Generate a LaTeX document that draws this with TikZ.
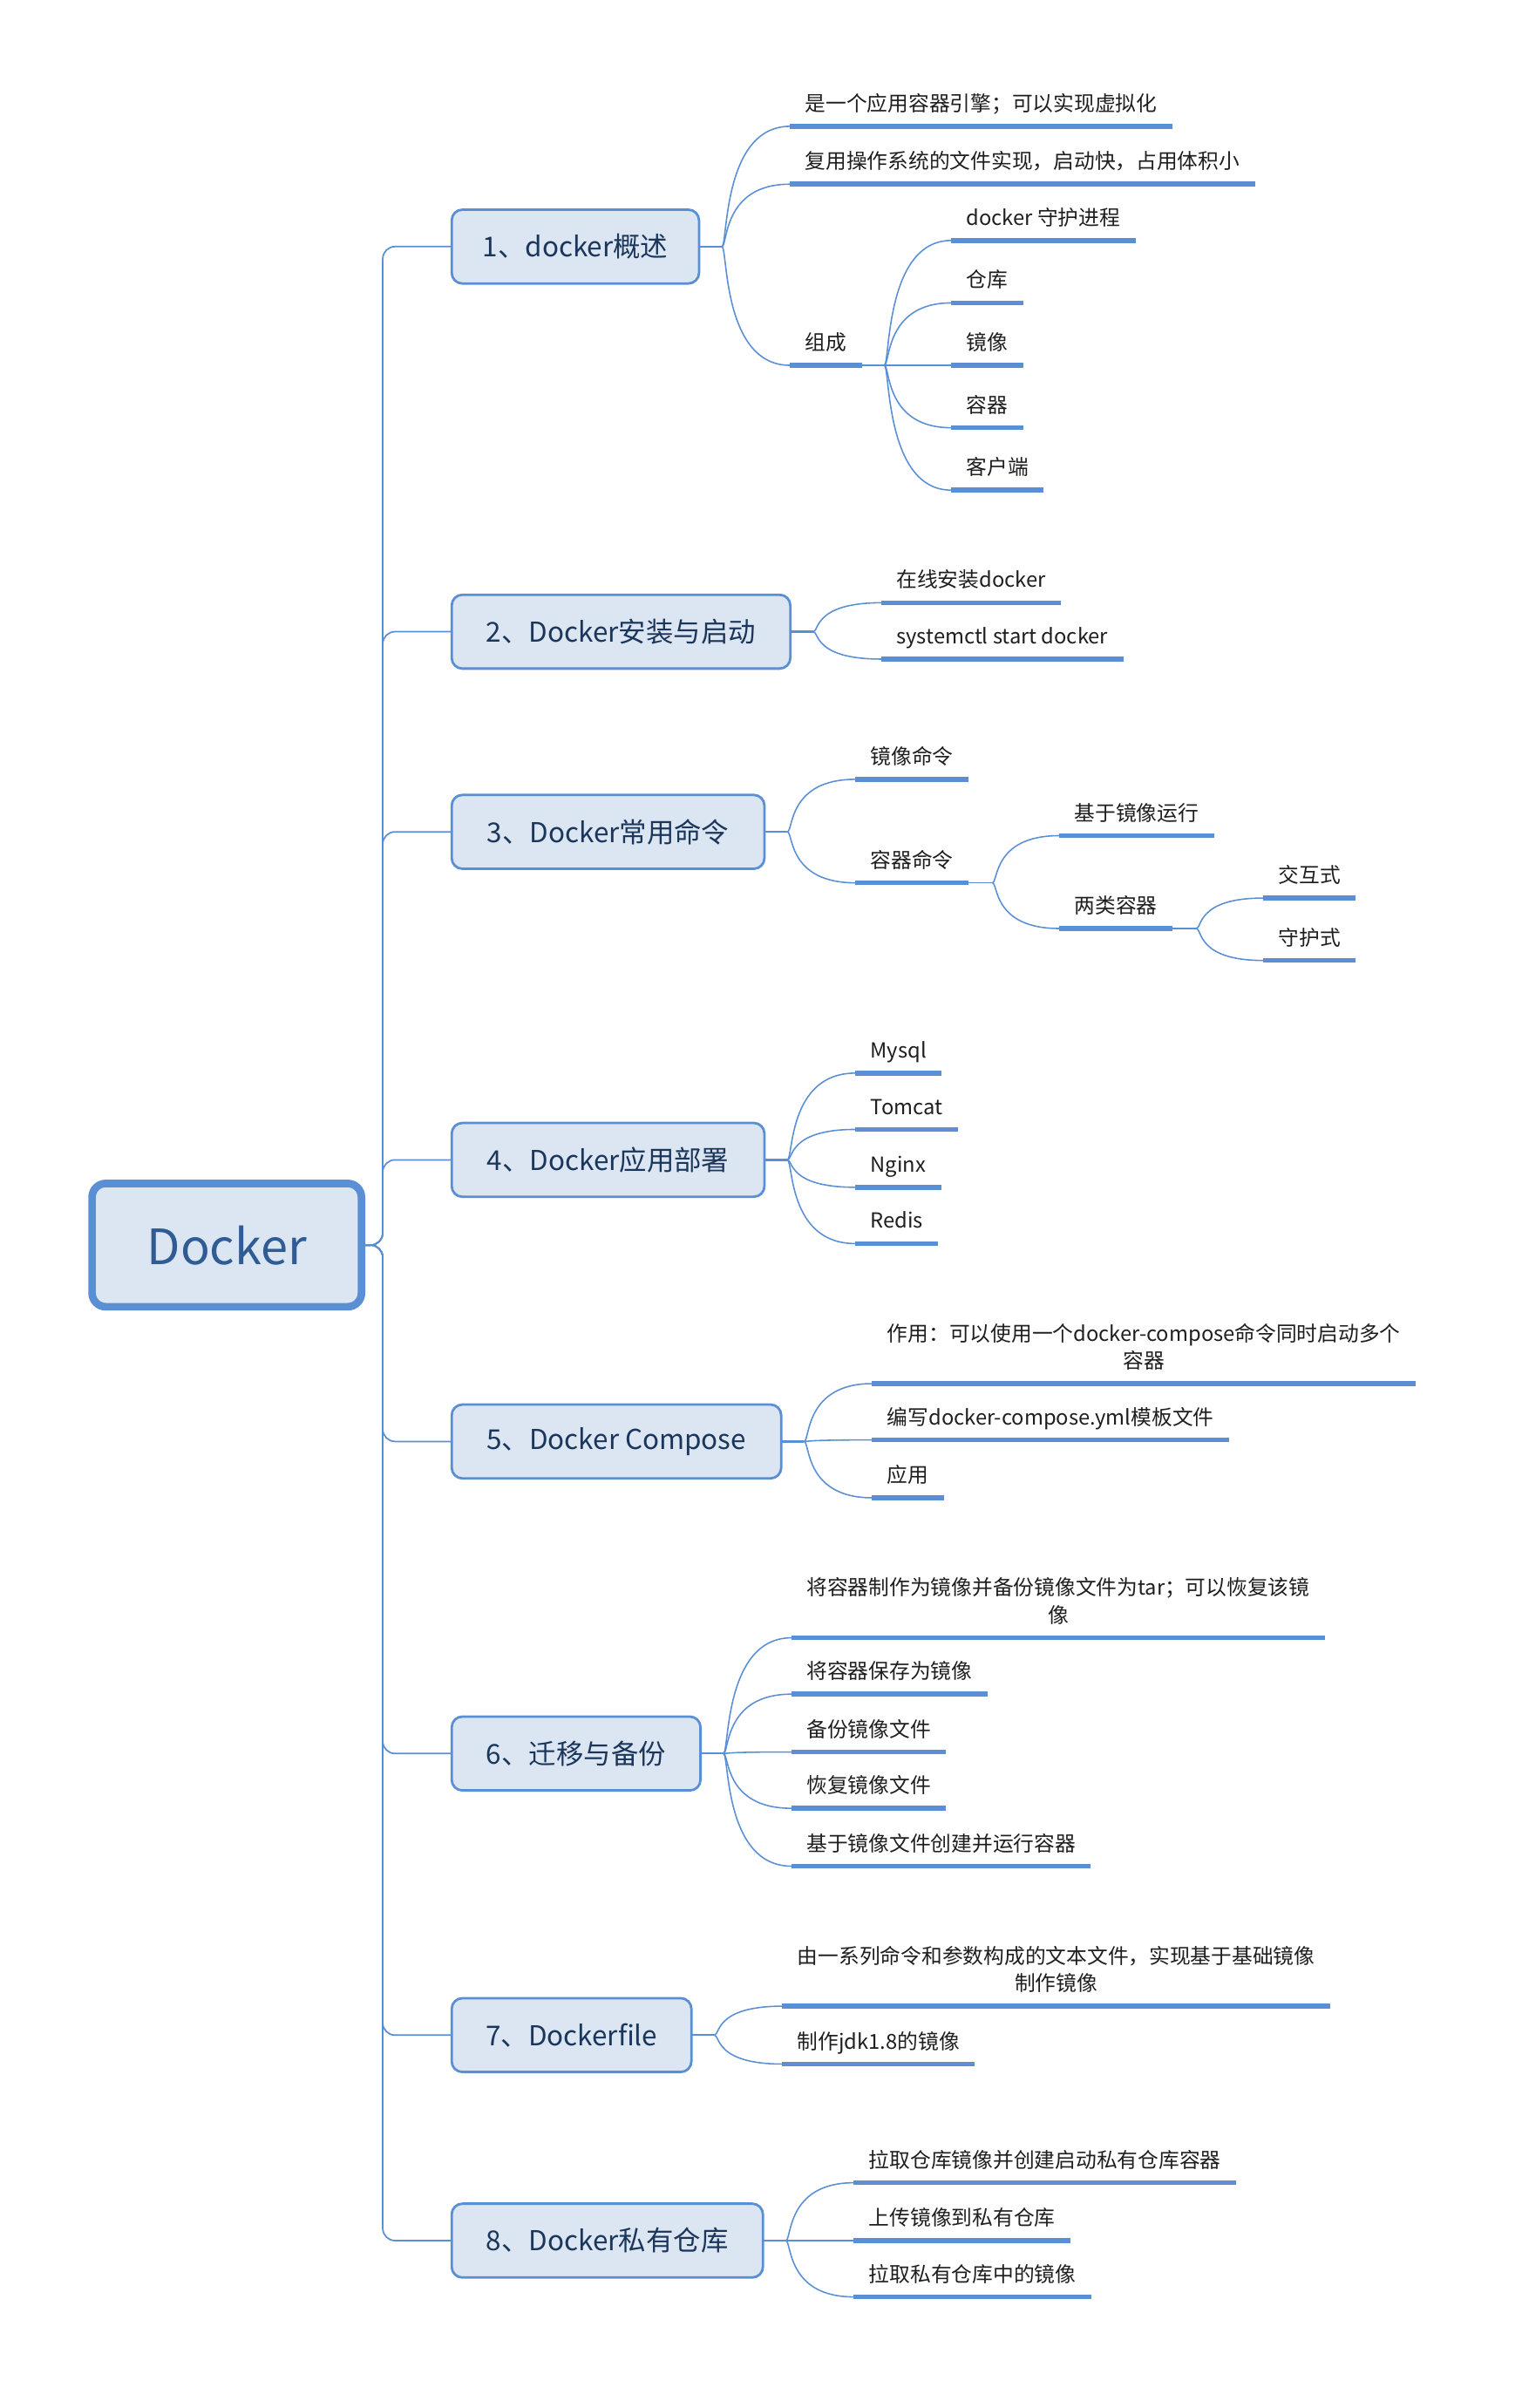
\documentclass[tikz,border=0pt]{standalone}
\usepackage{fontspec}
\setmainfont{Noto Sans CJK SC}
\definecolor{lineblue}{HTML}{5A8FD6}
\definecolor{boxfill}{HTML}{DCE6F2}
\definecolor{topictext}{HTML}{1B365B}
\definecolor{roottext}{HTML}{2F5C94}
\definecolor{leaftext}{HTML}{1E1E1E}
\begin{document}
\begin{tikzpicture}[x=1pt,y=-1pt,
	link/.style={draw=lineblue, line width=0.9pt},
	stub/.style={draw=lineblue, line width=1.3pt},
	uline/.style={draw=lineblue, line width=3.2pt},
	topic/.style={draw=lineblue, line width=1.6pt, fill=boxfill, rounded corners=7pt,
		minimum height=48.5pt, inner sep=0pt, outer sep=0pt, anchor=west,
		text=topictext, font=\fontsize{18}{22}\selectfont},
	leaf/.style={anchor=south west, inner xsep=10pt, inner ysep=10pt, outer sep=0pt,
		text depth=0pt, align=center, text=leaftext, font=\fontsize{13.6}{18}\selectfont}]

	\useasboundingbox (0,0) rectangle (1000,1582);

	% root
	\node[draw=lineblue, line width=5pt, fill=boxfill, rounded corners=9pt,
		minimum width=177pt, minimum height=81pt, outer sep=0pt,
		text=roottext, font=\fontsize{32}{36}\selectfont] (root) at (149,818) {Docker};

	% topics
	\node[topic, minimum width=162.5pt] (t1) at (296.8,162) {1、docker概述};
	\node[topic, minimum width=222.5pt] (t2) at (296.8,415) {2、Docker安装与启动};
	\node[topic, minimum width=205.5pt] (t3) at (296.8,546.5) {3、Docker常用命令};
	\node[topic, minimum width=205.5pt] (t4) at (296.8,762) {4、Docker应用部署};
	\node[topic, minimum width=216.5pt] (t5) at (296.8,947) {5、Docker Compose};
	\node[topic, minimum width=163.5pt] (t6) at (296.8,1152) {6、迁移与备份};
	\node[topic, minimum width=157.5pt] (t7) at (296.8,1337) {7、Dockerfile};
	\node[topic, minimum width=204.5pt] (t8) at (296.8,1472) {8、Docker私有仓库};

	\foreach \t in {t1,t2,t3,t4,t5,t6,t7,t8}
	\draw[link, line width=1pt, rounded corners=8pt] (root.east) -- ++(14,0) |- (\t.west);

	% leaves
	\node[leaf] (t1a) at (519,83) {是一个应用容器引擎；可以实现虚拟化};
	\node[leaf] (t1b) at (519,121) {复用操作系统的文件实现，启动快，占用体积小};
	\node[leaf] (t1c) at (519,240) {组成};
	\node[leaf] (t1c1) at (625,158) {docker 守护进程};
	\node[leaf] (t1c2) at (625,199) {仓库};
	\node[leaf] (t1c3) at (625,240) {镜像};
	\node[leaf] (t1c4) at (625,281) {容器};
	\node[leaf] (t1c5) at (625,322) {客户端};

	\node[leaf] (t2a) at (579,396) {在线安装docker};
	\node[leaf] (t2b) at (579,433) {systemctl start docker};

	\node[leaf] (t3a) at (562,512) {镜像命令};
	\node[leaf] (t3b) at (562,580) {容器命令};
	\node[leaf] (t3b1) at (696,549) {基于镜像运行};
	\node[leaf] (t3b2) at (696,610) {两类容器};
	\node[leaf] (t3b21) at (830,590) {交互式};
	\node[leaf] (t3b22) at (830,631) {守护式};

	\node[leaf] (t4a) at (562,705) {Mysql};
	\node[leaf] (t4b) at (562,742) {Tomcat};
	\node[leaf] (t4c) at (562,780) {Nginx};
	\node[leaf] (t4d) at (562,817) {Redis};

	\node[leaf] (t5a) at (573,909) {作用：可以使用一个docker-compose命令同时启动多个\\容器};
	\node[leaf] (t5b) at (573,946) {编写docker-compose.yml模板文件};
	\node[leaf] (t5c) at (573,984) {应用};

	\node[leaf] (t6a) at (520,1076) {将容器制作为镜像并备份镜像文件为tar；可以恢复该镜\\像};
	\node[leaf] (t6b) at (520,1113) {将容器保存为镜像};
	\node[leaf] (t6c) at (520,1151) {备份镜像文件};
	\node[leaf] (t6d) at (520,1188) {恢复镜像文件};
	\node[leaf] (t6e) at (520,1226) {基于镜像文件创建并运行容器};

	\node[leaf] (t7a) at (514,1318) {由一系列命令和参数构成的文本文件，实现基于基础镜像\\制作镜像};
	\node[leaf] (t7b) at (514,1356) {制作jdk1.8的镜像};

	\node[leaf] (t8a) at (561,1434) {拉取仓库镜像并创建启动私有仓库容器};
	\node[leaf] (t8b) at (561,1472) {上传镜像到私有仓库};
	\node[leaf] (t8c) at (561,1509) {拉取私有仓库中的镜像};

	% fans
	\foreach \t in {t1,t2,t3,t4,t5,t6,t7,t8}
	\path (\t.east) ++(15,0) coordinate (f\t);
	\coordinate (ft1c) at (581,240);
	\coordinate (ft3b) at (652,580);
	\coordinate (ft3b2) at (786,610);

	\foreach \t in {t1,t2,t3,t4,t5,t6,t7,t8}
	\draw[stub] (\t.east) -- (f\t);
	\foreach \t in {t1c,t3b,t3b2}
	\draw[link] (\t.south east) -- (f\t);

	% curves
	\foreach \p/\c in {t1/t1a,t1/t1b,t1/t1c,t1c/t1c1,t1c/t1c2,t1c/t1c3,t1c/t1c4,t1c/t1c5,
		t2/t2a,t2/t2b,t3/t3a,t3/t3b,t3b/t3b1,t3b/t3b2,t3b2/t3b21,t3b2/t3b22,
		t4/t4a,t4/t4b,t4/t4c,t4/t4d,t5/t5a,t5/t5b,t5/t5c,
		t6/t6a,t6/t6b,t6/t6c,t6/t6d,t6/t6e,t7/t7a,t7/t7b,t8/t8a,t8/t8b,t8/t8c}
	\draw[link] (f\p) .. controls +(4,0) and (f\p |- \c.south west) .. (\c.south west);

	% underlines
	\foreach \c in {t1a,t1b,t1c,t1c1,t1c2,t1c3,t1c4,t1c5,t2a,t2b,t3a,t3b,t3b1,t3b2,t3b21,t3b22,
		t4a,t4b,t4c,t4d,t5a,t5b,t5c,t6a,t6b,t6c,t6d,t6e,t7a,t7b,t8a,t8b,t8c}
	\draw[uline] (\c.south west) -- (\c.south east);
\end{tikzpicture}
\end{document}
